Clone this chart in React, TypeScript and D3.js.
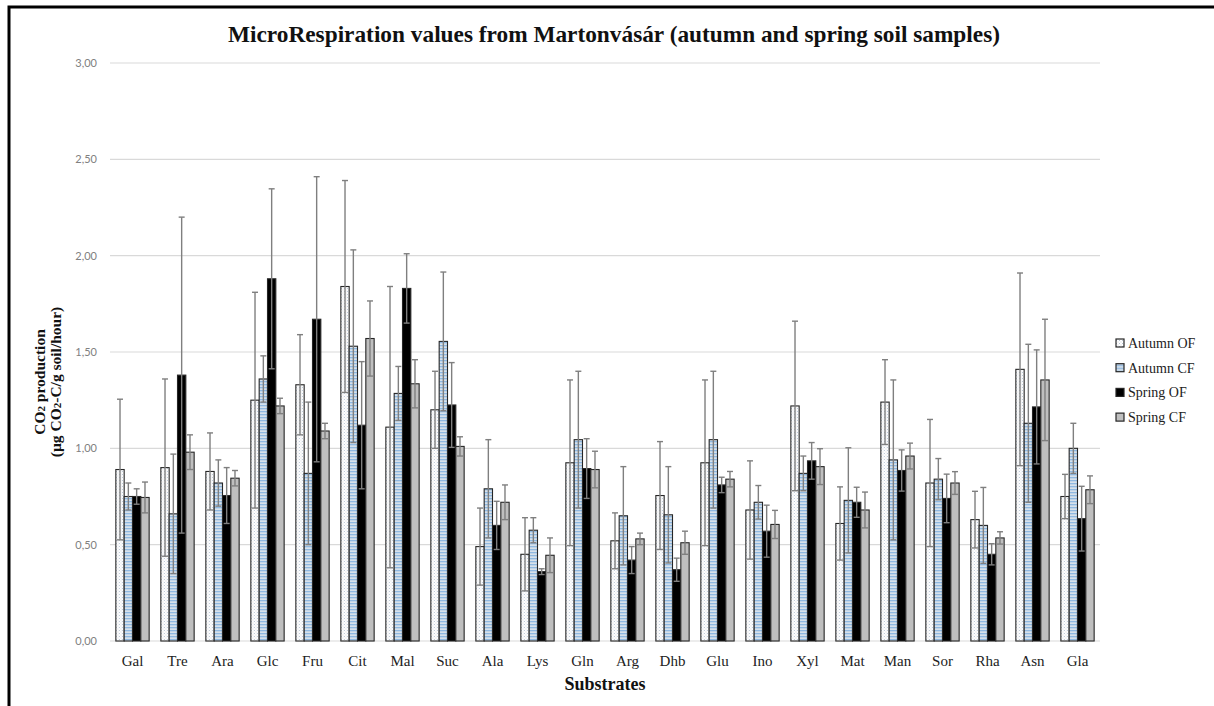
import React from "react";
import * as d3 from "d3";

const categories = ["Gal","Tre","Ara","Glc","Fru","Cit","Mal","Suc","Ala","Lys","Gln","Arg","Dhb","Glu","Ino","Xyl","Mat","Man","Sor","Rha","Asn","Gla"];
const seriesNames = ["Autumn OF","Autumn CF","Spring OF","Spring CF"];

const autumnOF = [0.89,0.90,0.88,1.25,1.33,1.84,1.11,1.20,0.49,0.45,0.925,0.52,0.755,0.925,0.68,1.22,0.61,1.24,0.82,0.63,1.41,0.75];
const autumnOFErr = [0.365,0.46,0.20,0.56,0.26,0.55,0.73,0.20,0.20,0.19,0.43,0.145,0.28,0.43,0.255,0.44,0.19,0.22,0.33,0.147,0.50,0.115];
const autumnCF = [0.75,0.66,0.82,1.36,0.87,1.53,1.285,1.555,0.79,0.575,1.045,0.65,0.655,1.045,0.72,0.87,0.73,0.94,0.84,0.60,1.13,1.00];
const autumnCFErr = [0.07,0.31,0.12,0.12,0.37,0.50,0.14,0.36,0.255,0.065,0.355,0.255,0.25,0.355,0.087,0.09,0.273,0.415,0.107,0.197,0.41,0.13];
const springOF = [0.75,1.38,0.755,1.88,1.67,1.12,1.83,1.225,0.60,0.36,0.895,0.42,0.37,0.81,0.57,0.935,0.72,0.885,0.74,0.45,1.215,0.635];
const springOFErr = [0.04,0.82,0.145,0.467,0.74,0.33,0.18,0.22,0.125,0.015,0.155,0.07,0.06,0.04,0.135,0.095,0.078,0.107,0.126,0.055,0.296,0.168];
const springCF = [0.745,0.98,0.845,1.22,1.09,1.57,1.335,1.01,0.72,0.445,0.89,0.53,0.51,0.84,0.605,0.905,0.68,0.96,0.82,0.535,1.355,0.785];
const springCFErr = [0.08,0.09,0.04,0.04,0.04,0.195,0.125,0.05,0.09,0.09,0.095,0.03,0.06,0.04,0.073,0.093,0.093,0.067,0.059,0.032,0.315,0.072];

const yTicks = [0, 0.5, 1, 1.5, 2, 2.5, 3];

const values = [autumnOF, autumnCF, springOF, springCF];
const errors = [autumnOFErr, autumnCFErr, springOFErr, springCFErr];
const fills = ["url(#patAOF)", "url(#patACF)", "#000000", "#bfbfbf"];

export default function App() {
  const W = 1214, H = 706;
  const left = 110, right = 1100, top = 63, bottom = 641;
  const x0 = d3.scaleBand<string>().domain(categories).range([left, right]).paddingInner(0.26).paddingOuter(0.13);
  const x1 = d3.scaleBand<string>().domain(seriesNames).range([0, x0.bandwidth()]).padding(0);
  const y = d3.scaleLinear().domain([0, 3]).range([bottom, top]);
  const fmt = (v: number) => v.toFixed(2).replace(".", ",");
  const serif = "'Liberation Serif', 'Times New Roman', serif";
  const sans = "Lato, 'Open Sans', sans-serif";
  const cap = 3;

  return (
    <svg width={W} height={H} style={{ position: "absolute", left: 0, top: 0, background: "#fff" }}>
      <defs>
        <pattern id="patAOF" width="3" height="3" patternUnits="userSpaceOnUse">
          <rect width="3" height="3" fill="#ffffff" />
          <rect x="0" y="0" width="1" height="1" fill="#b7c4d4" />
          <rect x="1.5" y="1.5" width="1" height="1" fill="#cfd6de" />
        </pattern>
        <pattern id="patACF" width="4" height="3" patternUnits="userSpaceOnUse">
          <rect width="4" height="3" fill="#d7e1ea" />
          <rect x="0" y="0" width="4" height="1.3" fill="#8fb8e0" />
        </pattern>
      </defs>
      <rect x={9} y={7} width={1300} height={800} fill="none" stroke="#000" strokeWidth={3} />
      <text x={614} y={42} textAnchor="middle" fontFamily={serif} fontWeight="bold" fontSize={23} fill="#111"
        textLength={772} lengthAdjust="spacingAndGlyphs">
        MicroRespiration values from Martonvásár (autumn and spring soil samples)
      </text>
      {yTicks.map(t => (
        <g key={t}>
          <line x1={left} x2={right} y1={y(t)} y2={y(t)} stroke="#d9d9d9" strokeWidth={1.2} />
          <text x={97} y={y(t) + 4} textAnchor="end" fontFamily={sans} fontSize={11} fill="#808080">{fmt(t)}</text>
        </g>
      ))}
      {categories.map((c, i) => (
        <g key={c} transform={`translate(${x0(c)},0)`}>
          {seriesNames.map((s, k) => (
            <rect key={s} x={x1(s)} y={y(values[k][i])} width={x1.bandwidth()} height={bottom - y(values[k][i])}
              fill={fills[k]} stroke="#262626" strokeWidth={1.1} />
          ))}
        </g>
      ))}
      {categories.map((c, i) => (
        <g key={c + "e"} transform={`translate(${x0(c)},0)`}>
          {seriesNames.map((s, k) => {
            const cx = (x1(s) as number) + x1.bandwidth() / 2;
            const v = values[k][i], e = errors[k][i];
            return (
              <g key={s} stroke="#7f7f7f" strokeWidth={1.4}>
                <line x1={cx} x2={cx} y1={y(v - e)} y2={y(v + e)} />
                <line x1={cx - cap} x2={cx + cap} y1={y(v + e)} y2={y(v + e)} />
                <line x1={cx - cap} x2={cx + cap} y1={y(v - e)} y2={y(v - e)} />
              </g>
            );
          })}
        </g>
      ))}
      {categories.map(c => (
        <text key={c + "l"} x={(x0(c) as number) + x0.bandwidth() / 2} y={666} textAnchor="middle" fontFamily={serif} fontSize={15} fill="#222">{c}</text>
      ))}
      <text x={605} y={690} textAnchor="middle" fontFamily={serif} fontWeight="bold" fontSize={18} fill="#111">Substrates</text>
      <g transform="translate(45,382) rotate(-90)" fontFamily={serif} fontWeight="bold" fontSize={15.5} fill="#111">
        <text x={0} y={0} textAnchor="middle">CO<tspan fontSize={11}>2</tspan> production</text>
        <text x={0} y={16} textAnchor="middle">(µg CO<tspan fontSize={11}>2</tspan>-C/g soil/hour)</text>
      </g>
      {seriesNames.map((s, k) => (
        <g key={s + "lg"} transform={`translate(1116,${343 + k * 24.7})`}>
          <rect x={0} y={-4} width={8} height={8} fill={fills[k]} stroke="#262626" strokeWidth={1.2} />
          <text x={12} y={5} fontFamily={serif} fontSize={14} fill="#222">{s}</text>
        </g>
      ))}
    </svg>
  );
}
